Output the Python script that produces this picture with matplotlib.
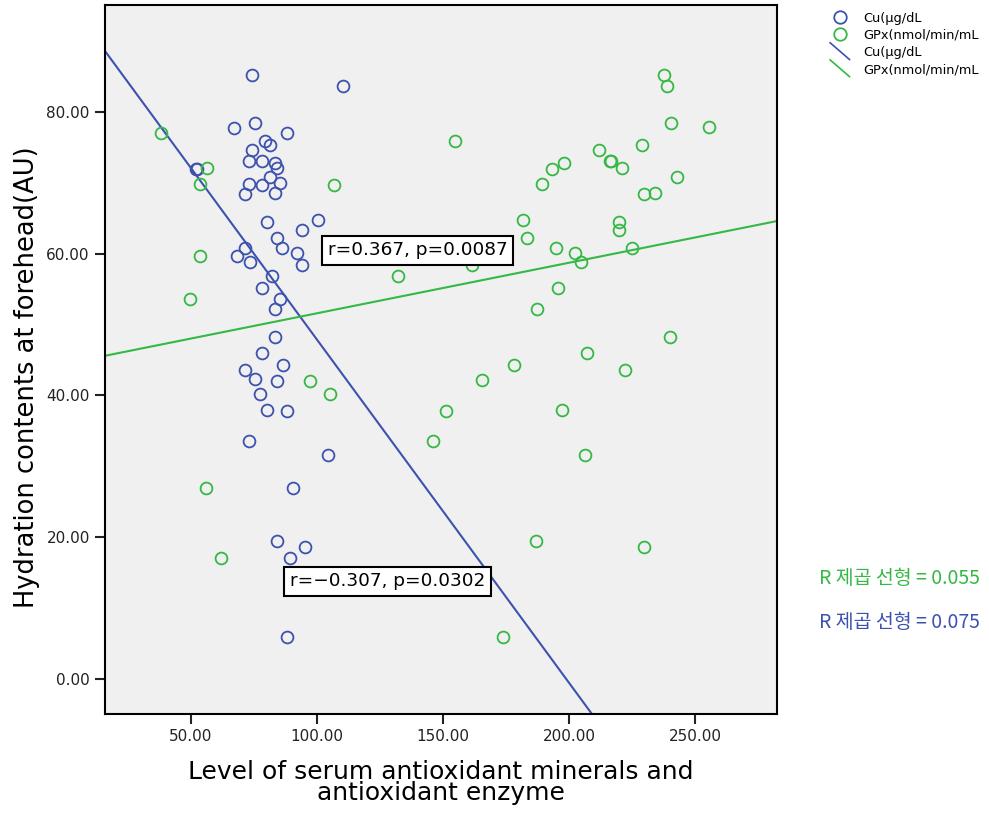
import matplotlib
matplotlib.use("Agg")
import matplotlib.pyplot as plt
from matplotlib.lines import Line2D
from matplotlib.legend_handler import HandlerBase

# ---- data ----
cu_x = [74.2, 110.3, 67.1, 75.4, 88.1, 79.4, 81.3, 74.2, 73.0, 78.2, 83.3, 84.1, 52.0, 52.4,
        81.3, 73.0, 78.2, 85.3, 71.4, 83.3, 100.4, 80.2, 94.0, 84.1, 86.1, 71.4, 92.1, 68.3,
        73.4, 94.0, 82.1, 78.2, 85.3, 83.3, 83.3, 78.2, 86.5, 71.4, 75.4, 84.1, 77.4, 80.2,
        88.1, 73.0, 104.4, 90.5, 84.1, 95.2, 89.3, 88.1]
cu_y = [85.2, 83.7, 77.7, 78.4, 77.0, 75.9, 75.3, 74.6, 73.1, 73.1, 72.8, 72.1, 72.0, 72.0,
        70.8, 69.8, 69.7, 70.0, 68.4, 68.6, 64.8, 64.5, 63.4, 62.2, 60.8, 60.8, 60.1, 59.7,
        58.8, 58.4, 56.9, 55.2, 53.6, 52.2, 48.3, 46.0, 44.3, 43.6, 42.3, 42.0, 40.2, 38.0,
        37.8, 33.6, 31.6, 26.9, 19.5, 18.6, 17.1, 5.9]

gpx_x = [237.7, 238.9, 255.6, 240.5, 38.1, 154.8, 229.0, 211.9, 216.3, 216.7, 198.0, 221.0,
         56.3, 193.3, 242.9, 189.3, 53.6, 106.7, 229.8, 234.1, 181.7, 219.8, 219.8, 183.3,
         194.8, 225.0, 202.4, 53.6, 204.8, 161.5, 132.1, 195.6, 49.6, 187.3, 240.1, 207.1,
         178.2, 222.2, 165.5, 97.2, 105.2, 151.2, 197.2, 146.0, 206.3, 56.0, 186.9, 229.8,
         61.9, 173.8]
gpx_y = [85.2, 83.7, 77.9, 78.4, 77.0, 75.9, 75.3, 74.6, 73.1, 73.1, 72.8, 72.1, 72.1, 72.0,
         70.8, 69.8, 69.8, 69.7, 68.4, 68.6, 64.8, 64.5, 63.4, 62.2, 60.8, 60.8, 60.1, 59.7,
         58.8, 58.4, 56.9, 55.2, 53.6, 52.2, 48.3, 46.0, 44.3, 43.6, 42.2, 42.0, 40.2, 37.8,
         38.0, 33.6, 31.6, 26.9, 19.5, 18.6, 17.1, 5.9]

# fit lines (slope, intercept)
cu_fit = (-0.4842, 96.3)
gpx_fit = (0.0713, 44.47)

cu_label = "Cu(µg/dL"
gpx_label = "GPx(nmol/min/mL"
cu_r2 = "R 제곱 선형 = 0.075"
gpx_r2 = "R 제곱 선형 = 0.055"
cu_annot = "r=\u22120.307, p=0.0302"
gpx_annot = "r=0.367, p=0.0087"

x_ticks = [50, 100, 150, 200, 250]
y_ticks = [0, 20, 40, 60, 80]
xlim = (15.9, 282.5)
ylim = (-4.94, 95.1)

BLUE = "#3d52ae"
GREEN = "#35b845"

plt.rcParams['font.family'] = ['DejaVu Sans']

fig = plt.figure(figsize=(9.89, 8.16), dpi=100)
ax = fig.add_axes([0.1062, 0.125, 0.6794, 0.8689])
ax.set_facecolor("#f0f0f0")

ax.plot(cu_x, cu_y, linestyle='none', marker='o', markersize=8.5, markerfacecolor='none',
        markeredgecolor=BLUE, markeredgewidth=1.3, zorder=3)
ax.plot(gpx_x, gpx_y, linestyle='none', marker='o', markersize=8.5, markerfacecolor='none',
        markeredgecolor=GREEN, markeredgewidth=1.3, zorder=3)

xs = [xlim[0], xlim[1]]
ax.plot(xs, [cu_fit[0] * v + cu_fit[1] for v in xs], color=BLUE, lw=1.5, zorder=2)
ax.plot(xs, [gpx_fit[0] * v + gpx_fit[1] for v in xs], color=GREEN, lw=1.5, zorder=2)

ax.set_xlim(*xlim)
ax.set_ylim(*ylim)
ax.set_xticks(x_ticks)
ax.set_xticklabels([f"{v:.2f}" for v in x_ticks])
ax.set_yticks(y_ticks)
ax.set_yticklabels([f"{v:.2f}" for v in y_ticks])
ax.tick_params(direction='out', length=7, width=1.5, labelsize=11, colors='#222222', pad=4)
for s in ax.spines.values():
    s.set_linewidth(1.5)
    s.set_color('black')

ax.set_xlabel("Level of serum antioxidant minerals and\nantioxidant enzyme", fontsize=18,
              linespacing=0.88, labelpad=11)
ax.set_ylabel("Hydration contents at forehead(AU)", fontsize=18.5)
ax.yaxis.set_label_coords(-0.097, 0.475)

box = dict(boxstyle='square,pad=0.3', facecolor='white', edgecolor='black', linewidth=1.5)
ax.text(104.3, 60.5, gpx_annot, fontsize=13.3, va='center', ha='left', bbox=box, zorder=5)
ax.text(89.3, 13.8, cu_annot, fontsize=13.3, va='center', ha='left', bbox=box, zorder=5)

fig.text(0.828, 1 - 579 / 816, gpx_r2, color=GREEN, fontsize=14, va='center',
         family=['Noto Sans CJK KR', 'DejaVu Sans'])
fig.text(0.828, 1 - 622 / 816, cu_r2, color=BLUE, fontsize=14, va='center',
         family=['Noto Sans CJK KR', 'DejaVu Sans'])


class HandlerDiag(HandlerBase):
    def create_artists(self, legend, orig_handle, xdescent, ydescent, width, height,
                       fontsize, trans):
        x0 = -xdescent + width * 0.1
        x1 = -xdescent + width * 0.85
        l = Line2D([x0, x1], [height * 1.45, -height * 0.4], color=orig_handle.get_color(),
                   lw=1.2, transform=trans)
        return [l]


h_cu_m = Line2D([], [], linestyle='none', marker='o', markersize=9, markerfacecolor='none',
                markeredgecolor=BLUE, markeredgewidth=1.3)
h_gpx_m = Line2D([], [], linestyle='none', marker='o', markersize=9, markerfacecolor='none',
                 markeredgecolor=GREEN, markeredgewidth=1.3)
h_cu_l = Line2D([], [], color=BLUE)
h_gpx_l = Line2D([], [], color=GREEN)
fig.legend([h_cu_m, h_gpx_m, h_cu_l, h_gpx_l], [cu_label, gpx_label, cu_label, gpx_label],
           loc='upper left', bbox_to_anchor=(0.825, 1.0), frameon=False, fontsize=9.3,
           handlelength=2.0, handletextpad=0.8, labelspacing=0.32,
           handler_map={h_cu_l: HandlerDiag(), h_gpx_l: HandlerDiag()})

fig.savefig("out.png", dpi=100, facecolor='white')
